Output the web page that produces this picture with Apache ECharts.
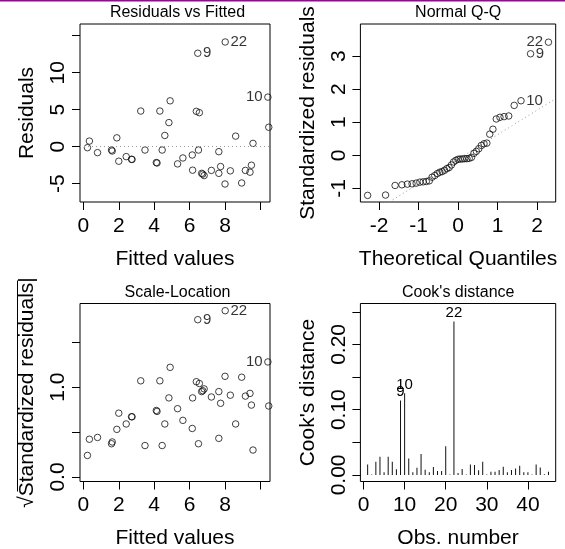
<!DOCTYPE html>
<html><head><meta charset="utf-8">
<script src="https://cdn.jsdelivr.net/npm/echarts@6/dist/echarts.min.js"></script>
<style>html,body{margin:0;padding:0;background:#fff}#c{width:565px;height:549px}</style>
</head><body><div id="c"></div>
<script>
// ---------- data ----------
const fitted = [0.23, 0.34, 0.80, 1.59, 1.63, 1.89, 2.00, 2.42, 2.72, 2.75, 3.24, 3.48, 4.12, 4.16, 4.32, 4.45, 4.60, 4.83, 4.90, 5.32, 5.62, 6.15, 6.17, 6.38, 6.55, 6.46, 6.50, 6.68, 6.74, 6.82, 7.23, 7.65, 7.65, 7.75, 8.01, 8.00, 8.30, 8.60, 8.94, 9.15, 9.41, 9.49, 9.58, 10.42, 10.47];
const residuals = [-0.13, 0.76, -0.80, -0.45, -0.58, 1.20, -1.96, -1.34, -1.70, -1.72, 4.82, -0.45, -2.14, -2.20, 4.82, -0.45, 1.52, 3.26, 6.20, -2.32, -1.52, -1.12, -3.17, 4.78, 4.60, 12.63, -0.45, -3.60, -3.70, -3.90, -3.20, -0.67, -3.60, -2.68, 14.15, -5.04, -3.26, 1.43, -4.90, -3.20, -3.44, -2.50, 0.45, 6.70, 2.63];
const sqrtStdResid = [0.24, 0.42, 0.44, 0.37, 0.39, 0.53, 0.71, 0.59, 0.67, 0.67, 1.07, 0.35, 0.74, 0.73, 1.07, 0.35, 0.59, 0.88, 1.22, 0.76, 0.63, 0.54, 0.88, 1.06, 1.04, 1.75, 0.37, 0.95, 0.96, 0.98, 0.89, 0.43, 0.95, 0.82, 1.85, 1.12, 0.91, 0.59, 1.11, 0.90, 0.93, 0.80, 0.30, 1.28, 0.79];
const pointLabelIndex = [25, 34, 43];
const pointLabelText = ['9', '22', '10'];
const pointLabelPos = ['right', 'right', 'left'];

const theoQuantiles = [-2.287, -1.834, -1.593, -1.420, -1.282, -1.164, -1.060, -0.967, -0.882, -0.802, -0.728, -0.657, -0.589, -0.524, -0.462, -0.401, -0.341, -0.282, -0.225, -0.168, -0.112, -0.056, 0, 0.056, 0.112, 0.168, 0.225, 0.282, 0.341, 0.401, 0.462, 0.524, 0.589, 0.657, 0.728, 0.802, 0.882, 0.967, 1.060, 1.164, 1.282, 1.420, 1.593, 1.834, 2.287];
const stdResidSorted = [-1.21, -1.20, -0.91, -0.89, -0.87, -0.86, -0.84, -0.81, -0.80, -0.79, -0.77, -0.66, -0.61, -0.55, -0.51, -0.49, -0.45, -0.40, -0.37, -0.29, -0.20, -0.15, -0.12, -0.11, -0.11, -0.10, -0.10, -0.09, -0.06, 0.06, 0.12, 0.20, 0.30, 0.35, 0.37, 0.64, 0.79, 1.10, 1.15, 1.17, 1.19, 1.51, 1.65, 3.07, 3.42];
const qqLabelIndex = [42, 43, 44];
const qqLabelText = ['10', '9', '22'];
const qqLabelPos = ['right', 'right', 'left'];
const qqLineX = [-1.74, 2.47];
const qqLineY = [-1.41, 1.715];

const obsNumber = [1,2,3,4,5,6,7,8,9,10,11,12,13,14,15,16,17,18,19,20,21,22,23,24,25,26,27,28,29,30,31,32,33,34,35,36,37,38,39,40,41,42,43,44,45];
const cooksD = [0.016, 0.0005, 0.020, 0.028, 0.004, 0.028, 0.020, 0.0086, 0.114, 0.125, 0.025, 0.004, 0.011, 0.032, 0.008, 0.004, 0.012, 0.006, 0.006, 0.044, 0.0005, 0.235, 0.003, 0.009, 0.0005, 0.016, 0.015, 0.007, 0.020, 0.0005, 0.005, 0.005, 0.0075, 0.0125, 0.004, 0.0075, 0.010, 0.014, 0.004, 0.004, 0.0005, 0.016, 0.0115, 0.001, 0.005];
const cookLabelObs = [9, 10, 22];

const titles = ['Residuals vs Fitted', 'Normal Q-Q', 'Scale-Location', "Cook's distance"];
const xNames = ['Fitted values', 'Theoretical Quantiles', 'Fitted values', 'Obs. number'];
const yNames = ['Residuals', 'Standardized residuals', '\u221AStandardized residuals|', "Cook's distance"];
const xTicks = [[0,2,4,6,8,10], [-2,-1,0,1,2], [0,2,4,6,8,10], [0,10,20,30,40]];
const xTickLabels = [[0,2,4,6,8], [-2,-1,0,1,2], [0,2,4,6,8], [0,10,20,30,40]];
const yTicks = [[-5,0,5,10,15], [-1,0,1,2,3], [0,0.5,1,1.5], [0,0.05,0.1,0.15,0.2,0.25]];
const yTickLabels = [[-5,0,5,10], [-1,0,1,2,3], [0,1], [0,0.1,0.2]];
const yLabelDigits = [0, 0, 1, 2];
const xRanges = [[-0.19,10.54], [-2.47,2.47], [-0.19,10.54], [-0.76,46.76]];
const yRanges = [[-7.47,16.58], [-1.41,3.97], [-0.05,1.93], [-0.0101,0.2627]];

// ---------- layout / style ----------
const FONT = "'Liberation Sans', Arial, Helvetica, sans-serif";
const boxes = [
  {left: 80, top: 24, width: 190, height: 178, titleX: 177.5},
  {left: 360.4, top: 24, width: 195.3, height: 178, titleX: 458.2},
  {left: 80, top: 303.5, width: 190, height: 178, titleX: 177.5},
  {left: 360.4, top: 303.5, width: 195.3, height: 178, titleX: 458.2}
];

const chart = echarts.init(document.getElementById('c'), null, {renderer: 'canvas'});

const grids = boxes.map(b => ({
  left: b.left, top: b.top, width: b.width, height: b.height,
  show: true, borderColor: '#000', borderWidth: 1, backgroundColor: 'transparent',
  containLabel: false, outerBoundsMode: 'none'
}));

const xAxes = boxes.map((b, i) => ({
  gridIndex: i, type: 'value', min: xRanges[i][0], max: xRanges[i][1],
  name: xNames[i], nameLocation: 'middle', nameGap: 46.5, nameMoveOverlap: false,
  nameTextStyle: {fontSize: 21, lineHeight: 21, color: '#000', fontFamily: FONT},
  axisLine: {show: false, onZero: false},
  axisTick: {show: true, inside: false, length: 8, customValues: xTicks[i], lineStyle: {color: '#000', width: 1}},
  axisLabel: {show: true, margin: 13.5, customValues: xTickLabels[i], fontSize: 21, lineHeight: 21, color: '#000', fontFamily: FONT,
    showMinLabel: true, showMaxLabel: true, formatter: v => String(v)},
  splitLine: {show: false}
}));

const yAxes = boxes.map((b, i) => ({
  gridIndex: i, type: 'value', min: yRanges[i][0], max: yRanges[i][1],
  name: yNames[i], nameLocation: 'middle', nameGap: 42, nameRotate: 90, nameMoveOverlap: false,
  nameTextStyle: {fontSize: 21, lineHeight: 21, color: '#000', fontFamily: FONT},
  axisLine: {show: false, onZero: false},
  axisTick: {show: true, inside: false, length: 8, customValues: yTicks[i], lineStyle: {color: '#000', width: 1}},
  axisLabel: {show: true, rotate: 90, margin: 11, customValues: yTickLabels[i], fontSize: 21, lineHeight: 21, color: '#000', fontFamily: FONT,
    showMinLabel: true, showMaxLabel: true, formatter: v => Number(v).toFixed(yLabelDigits[i])},
  splitLine: {show: false}
}));

const labelStyle = {fontSize: 15, color: '#000', fontFamily: FONT, distance: 1.5};
function pointData(xs, ys, labIdx, labTxt, labPos) {
  return xs.map((x, i) => {
    const item = {value: [x, ys[i]]};
    const k = labIdx.indexOf(i);
    if (k >= 0) item.label = Object.assign({show: true, position: labPos[k], formatter: labTxt[k]}, labelStyle);
    return item;
  });
}
const pointStyle = {color: 'rgba(0,0,0,0)', borderColor: '#111', borderWidth: 1};
const dotted = {type: [1, 3], color: '#999', width: 1};

const series = [
  {
    type: 'scatter', xAxisIndex: 0, yAxisIndex: 0, symbol: 'circle', symbolSize: 6.5,
    itemStyle: pointStyle, silent: true,
    data: pointData(fitted, residuals, pointLabelIndex, pointLabelText, pointLabelPos),
    markLine: {silent: true, symbol: ['none', 'none'], label: {show: false}, lineStyle: dotted, data: [{yAxis: 0}]}
  },
  {
    type: 'line', xAxisIndex: 1, yAxisIndex: 1, showSymbol: false, silent: true, z: 1,
    lineStyle: dotted, data: qqLineX.map((x, i) => [x, qqLineY[i]])
  },
  {
    type: 'scatter', xAxisIndex: 1, yAxisIndex: 1, symbol: 'circle', symbolSize: 6.5,
    itemStyle: pointStyle, silent: true, z: 3,
    data: pointData(theoQuantiles, stdResidSorted, qqLabelIndex, qqLabelText, qqLabelPos)
  },
  {
    type: 'scatter', xAxisIndex: 2, yAxisIndex: 2, symbol: 'circle', symbolSize: 6.5,
    itemStyle: pointStyle, silent: true,
    data: pointData(fitted, sqrtStdResid, pointLabelIndex, pointLabelText, pointLabelPos)
  },
  {
    type: 'bar', xAxisIndex: 3, yAxisIndex: 3, barWidth: 1, silent: true,
    itemStyle: {color: '#111'},
    data: obsNumber.map((o, i) => {
      const item = {value: [o, cooksD[i]]};
      if (cookLabelObs.indexOf(o) >= 0) item.label = {show: true, position: 'top', distance: 1, formatter: String(o), fontSize: 15, color: '#000', fontFamily: FONT};
      return item;
    })
  }
];

const graphics = [
  {type: 'rect', shape: {x: 0, y: 0, width: 565, height: 1.5}, style: {fill: '#a000a0'}, silent: true}
];
boxes.forEach((b, i) => {
  graphics.push({
    type: 'text', x: b.titleX, y: b.top - 11, silent: true,
    style: {text: titles[i], fontSize: 16, fontFamily: FONT, fill: '#000', align: 'center', verticalAlign: 'middle'}
  });
});
// radical vinculum over the scale-location y label
const midY3 = boxes[2].top + boxes[2].height / 2;
graphics.push({
  type: 'line', silent: true, z: 100,
  shape: {x1: boxes[2].left - 62.5, y1: midY3 - 112, x2: boxes[2].left - 62.5, y2: midY3 + 99},
  style: {stroke: '#000', lineWidth: 1}
});

chart.setOption({
  animation: false,
  backgroundColor: '#fff',
  grid: grids,
  xAxis: xAxes,
  yAxis: yAxes,
  series: series,
  graphic: graphics
});
</script></body></html>
